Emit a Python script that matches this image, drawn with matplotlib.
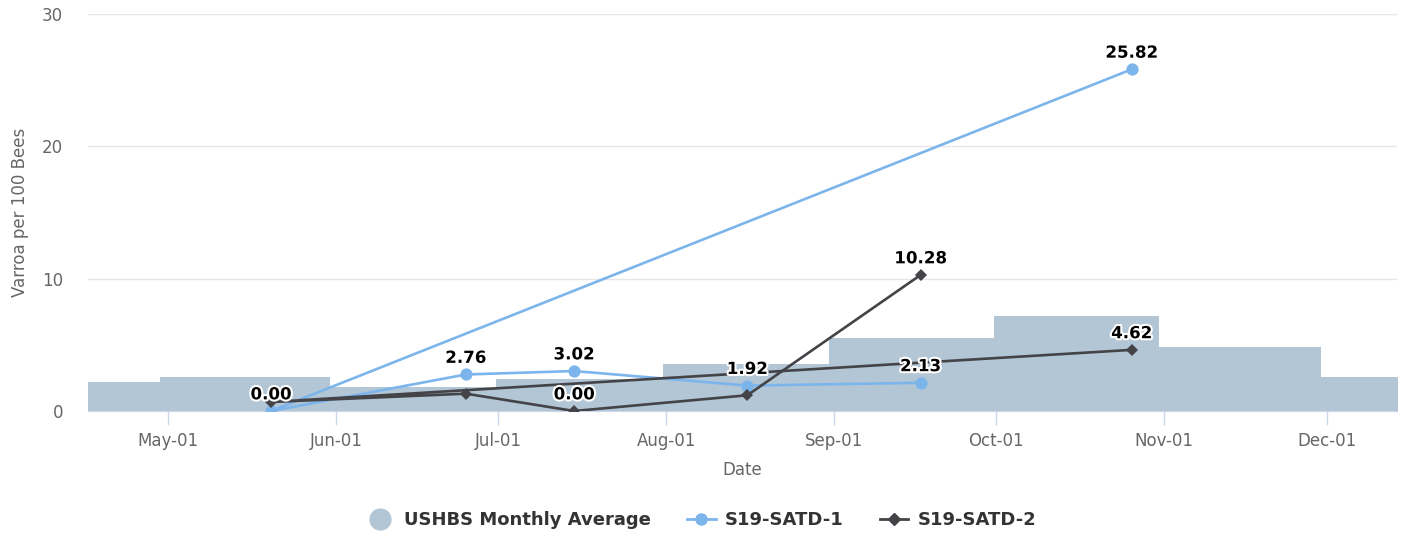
import matplotlib
matplotlib.use("Agg")
from matplotlib import pyplot as plt
import matplotlib.dates as mdates
import matplotlib.patheffects as pe
from matplotlib.lines import Line2D
import numpy as np

# USHBS monthly average (step, centred between points)
avg_dates = np.array(['2019-04-13', '2019-05-16', '2019-06-15', '2019-07-16', '2019-08-16',
                      '2019-09-15', '2019-10-16', '2019-11-15', '2019-12-15'], dtype='datetime64[D]')
avg_values = [2.2, 2.55, 1.84, 2.42, 3.56, 5.5, 7.2, 4.8, 2.55]

# samples, in the order the series were drawn
satd1_dates = np.array(['2019-10-26', '2019-05-20', '2019-06-25', '2019-07-15', '2019-08-16',
                        '2019-09-17'], dtype='datetime64[D]')
satd1_values = [25.82, 0.00, 2.76, 3.02, 1.92, 2.13]
satd1_show = [True, True, True, True, True, True]

satd2_dates = np.array(['2019-10-26', '2019-05-20', '2019-06-25', '2019-07-15', '2019-08-16',
                        '2019-09-17'], dtype='datetime64[D]')
satd2_values = [4.62, 0.68, 1.31, 0.00, 1.19, 10.28]
satd2_show = [True, False, False, True, False, True]

month_ticks = np.array(['2019-05-01', '2019-06-01', '2019-07-01', '2019-08-01', '2019-09-01',
                        '2019-10-01', '2019-11-01', '2019-12-01'], dtype='datetime64[D]')
x_range = (np.datetime64('2019-04-16T05'), np.datetime64('2019-12-14T00'))

AREA = '#b3c6d5'
BLUE = '#7cb5ec'
DARK = '#434348'

fig = plt.figure(figsize=(14.09, 5.36), dpi=100)
ax = fig.add_axes([88 / 1409, 1 - 411 / 536, (1397 - 88) / 1409, (411 - 14) / 536])

ax.fill_between(avg_dates, avg_values, 0, step='mid', color=AREA, linewidth=0, zorder=1)

ax.plot(satd1_dates, satd1_values, color=BLUE, lw=1.9, marker='o', ms=8.8,
        markeredgewidth=0, zorder=3)
ax.plot(satd2_dates, satd2_values, color=DARK, lw=1.9, marker='D', ms=6.5,
        markeredgewidth=0, zorder=4)

outline = [pe.withStroke(linewidth=3, foreground='white')]
for dates, vals, show in [(satd1_dates, satd1_values, satd1_show),
                          (satd2_dates, satd2_values, satd2_show)]:
    for d, v, s in zip(dates, vals, show):
        if s:
            ax.annotate(f'{v:.2f}', (d, v), xytext=(0, 5.5), textcoords='offset points',
                        ha='center', va='bottom', fontsize=12, fontweight='bold',
                        color='black', path_effects=outline, zorder=6)

ax.set_xlim(*x_range)
ax.set_ylim(0, 30)
ax.set_yticks([0, 10, 20, 30])
ax.yaxis.grid(True, color='#e6e6e6', lw=1)
ax.set_axisbelow(True)
ax.set_xticks(month_ticks)
ax.xaxis.set_major_formatter(mdates.DateFormatter('%b-%d'))
ax.tick_params(axis='x', colors='#ccd6eb', length=10, width=1, labelcolor='#666666',
               labelsize=12, pad=5)
ax.tick_params(axis='y', length=0, labelcolor='#666666', labelsize=12, pad=18)
for side in ['top', 'right', 'left']:
    ax.spines[side].set_visible(False)
ax.spines['bottom'].set_color('#ccd6eb')
ax.set_xlabel('Date', color='#666666', fontsize=12, labelpad=8)
ax.set_ylabel('Varroa per 100 Bees', color='#666666', fontsize=12, labelpad=9)

handles = [Line2D([], [], ls='none', marker='o', ms=15, color=AREA),
           Line2D([], [], color=BLUE, lw=2, marker='o', ms=8),
           Line2D([], [], color=DARK, lw=2, marker='D', ms=6)]
labels = ['USHBS Monthly Average', 'S19-SATD-1', 'S19-SATD-2']
fig.legend(handles, labels, loc='center', bbox_to_anchor=(701 / 1409, 1 - 520 / 536),
           ncol=3, frameon=False, handlelength=1.6, handletextpad=0.5, columnspacing=2.0,
           prop={'weight': 'bold', 'size': 13}, labelcolor='#333333')

fig.savefig('out.png', dpi=100)
